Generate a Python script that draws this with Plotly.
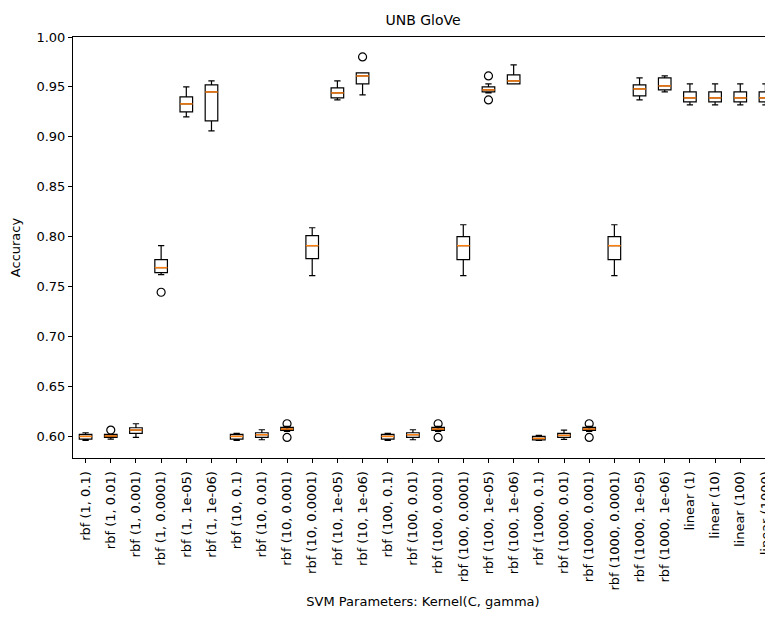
import plotly.graph_objects as go

labels = ["rbf (1, 0.1)", "rbf (1, 0.01)", "rbf (1, 0.001)", "rbf (1, 0.0001)", "rbf (1, 1e-05)", "rbf (1, 1e-06)",
          "rbf (10, 0.1)", "rbf (10, 0.01)", "rbf (10, 0.001)", "rbf (10, 0.0001)", "rbf (10, 1e-05)", "rbf (10, 1e-06)",
          "rbf (100, 0.1)", "rbf (100, 0.01)", "rbf (100, 0.001)", "rbf (100, 0.0001)", "rbf (100, 1e-05)", "rbf (100, 1e-06)",
          "rbf (1000, 0.1)", "rbf (1000, 0.01)", "rbf (1000, 0.001)", "rbf (1000, 0.0001)", "rbf (1000, 1e-05)", "rbf (1000, 1e-06)",
          "linear (1)", "linear (10)", "linear (100)", "linear (1000)"]

whislo = [0.596, 0.5974, 0.599, 0.762, 0.920, 0.906,
          0.596, 0.5967, 0.605, 0.761, 0.937, 0.942,
          0.596, 0.5967, 0.605, 0.761, 0.944, 0.953,
          0.596, 0.597, 0.605, 0.761, 0.937, 0.945,
          0.932, 0.932, 0.932, 0.932]
q1 = [0.5974, 0.599, 0.603, 0.764, 0.925, 0.916,
      0.5974, 0.599, 0.606, 0.778, 0.939, 0.953,
      0.5974, 0.599, 0.606, 0.777, 0.945, 0.953,
      0.5965, 0.599, 0.606, 0.777, 0.941, 0.947,
      0.935, 0.935, 0.935, 0.935]
median = [0.600, 0.6004, 0.6064, 0.769, 0.933, 0.945,
          0.600, 0.6017, 0.6074, 0.791, 0.944, 0.961,
          0.600, 0.6017, 0.6074, 0.791, 0.947, 0.956,
          0.598, 0.601, 0.6074, 0.791, 0.948, 0.951,
          0.939, 0.939, 0.939, 0.939]
q3 = [0.602, 0.602, 0.6087, 0.777, 0.940, 0.952,
      0.602, 0.6037, 0.609, 0.801, 0.949, 0.964,
      0.602, 0.6037, 0.609, 0.800, 0.950, 0.962,
      0.600, 0.603, 0.609, 0.800, 0.952, 0.959,
      0.945, 0.945, 0.945, 0.945]
whishi = [0.6037, 0.602, 0.6127, 0.791, 0.950, 0.956,
          0.603, 0.6067, 0.610, 0.809, 0.956, 0.964,
          0.603, 0.6067, 0.610, 0.812, 0.953, 0.972,
          0.601, 0.6064, 0.610, 0.812, 0.959, 0.961,
          0.953, 0.953, 0.953, 0.953]

outlier_pos = [2, 4, 9, 9, 12, 15, 15, 17, 17, 21, 21]
outlier_val = [0.6064, 0.7444, 0.6127, 0.599, 0.980, 0.6127, 0.599, 0.961, 0.937, 0.6127, 0.599]

positions = list(range(1, len(labels) + 1))
half = 0.25

fig = go.Figure()
fig.add_trace(go.Box(
    x=positions, q1=q1, median=median, q3=q3, lowerfence=whislo, upperfence=whishi,
    width=0.5, whiskerwidth=0.5, boxpoints=False,
    line=dict(color="black", width=1.2), fillcolor="rgba(255,255,255,0)",
    showlegend=False, hoverinfo="skip"))

mx, my = [], []
for p, m in zip(positions, median):
    mx += [p - half, p + half, None]
    my += [m, m, None]
fig.add_trace(go.Scatter(x=mx, y=my, mode="lines", line=dict(color="#ff7f0e", width=1.5),
                         showlegend=False, hoverinfo="skip"))

fig.add_trace(go.Scatter(x=outlier_pos, y=outlier_val, mode="markers",
                         marker=dict(symbol="circle-open", size=8, color="black", line=dict(width=1.2)),
                         showlegend=False, hoverinfo="skip"))

fig.update_layout(
    width=765, height=601,
    margin=dict(l=65, r=0, t=29, b=151, autoexpand=False),
    paper_bgcolor="white", plot_bgcolor="white",
    font=dict(family="DejaVu Sans", size=13, color="black"),
    title=dict(text="UNB GloVe", x=0.5425, y=1 - 12 / 601, xanchor="center", yanchor="middle",
               font=dict(size=14, color="black")),
)
fig.update_xaxes(
    range=[0.5, 28.3], tickmode="array", tickvals=positions, ticktext=labels,
    tickangle=-90, ticks="outside", ticklen=4, tickcolor="black", ticklabelstandoff=3,
    ticklabeloverflow="allow",
    showline=True, linecolor="black", linewidth=1, mirror=True,
    showgrid=False, zeroline=False, automargin=False,
    title=dict(text="SVM Parameters: Kernel(C, gamma)", standoff=12, font=dict(size=13)),
    tickfont=dict(size=13),
)
fig.update_yaxes(
    range=[0.5784, 1.0], tickmode="array",
    tickvals=[0.60, 0.65, 0.70, 0.75, 0.80, 0.85, 0.90, 0.95, 1.00],
    ticktext=["0.60", "0.65", "0.70", "0.75", "0.80", "0.85", "0.90", "0.95", "1.00"],
    ticks="outside", ticklen=4, tickcolor="black",
    showline=True, linecolor="black", linewidth=1, mirror=False,
    showgrid=False, zeroline=False, automargin=False,
    title=dict(text="Accuracy", standoff=12, font=dict(size=13)),
    tickfont=dict(size=13),
)

fig.write_html("out.html")
